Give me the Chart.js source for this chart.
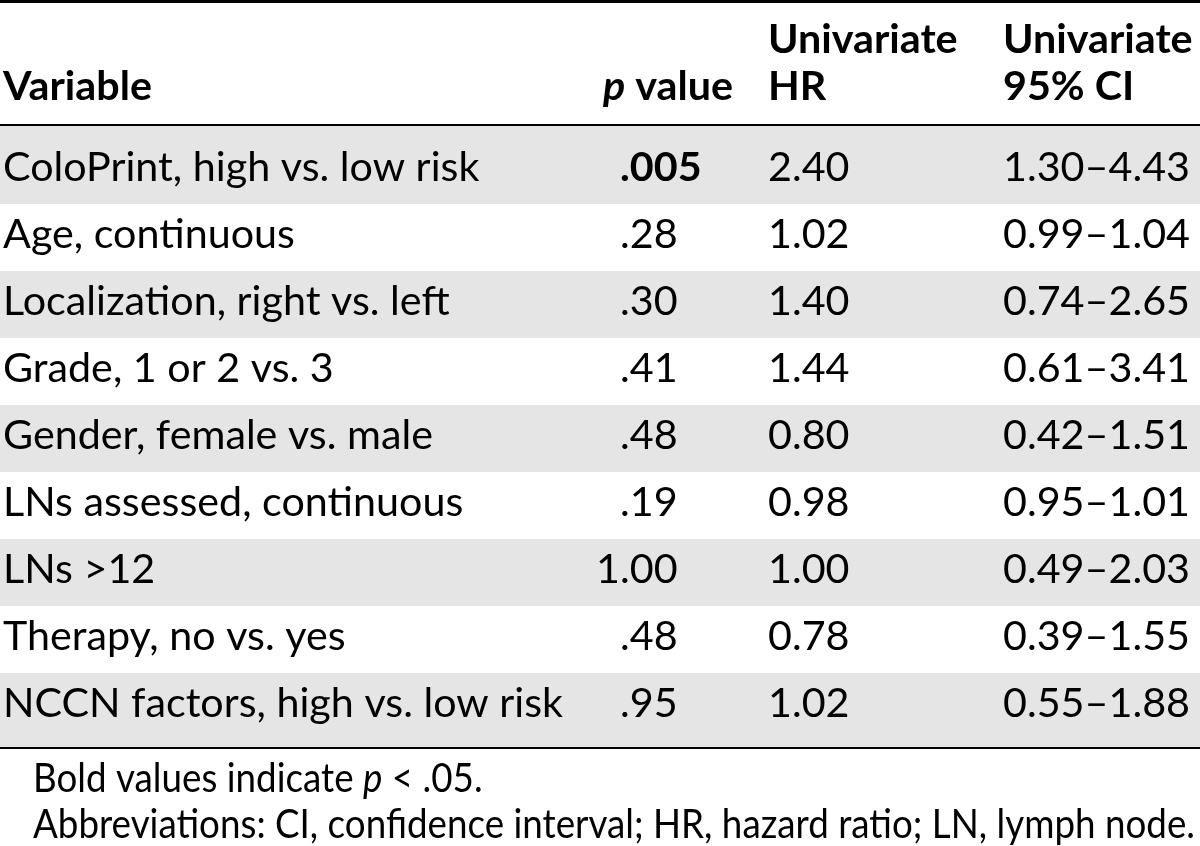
<!DOCTYPE html>
<html>
<head>
<meta charset="utf-8">
<script src="https://cdn.jsdelivr.net/npm/chart.js@4"></script>
<style>
  html, body { margin: 0; padding: 0; background: #ffffff; }
  canvas { display: block; }
</style>
</head>
<body>
<canvas id="c" width="1200" height="846"></canvas>
<script>
// ---- Data ----
const variables = [
  'ColoPrint, high vs. low risk',
  'Age, continuous',
  'Localization, right vs. left',
  'Grade, 1 or 2 vs. 3',
  'Gender, female vs. male',
  'LNs assessed, continuous',
  'LNs \u003E12',
  'Therapy, no vs. yes',
  'NCCN factors, high vs. low risk'
];
const pValues = [0.005, 0.28, 0.30, 0.41, 0.48, 0.19, 1.00, 0.48, 0.95];
const hazardRatios = [2.40, 1.02, 1.40, 1.44, 0.80, 0.98, 1.00, 0.78, 1.02];
const ciLower = [1.30, 0.99, 0.74, 0.61, 0.42, 0.95, 0.49, 0.39, 0.55];
const ciUpper = [4.43, 1.04, 2.65, 3.41, 1.51, 1.01, 2.03, 1.55, 1.88];
const headerVariable = ['Variable'];
const headerP = ['p', ' value'];
const headerHR = ['Univariate', 'HR'];
const headerCI = ['Univariate', '95% CI'];
const footnoteBold = ['Bold values indicate ', 'p', ' < .05.'];
const footnoteAbbr = 'Abbreviations: CI, confidence interval; HR, hazard ratio; LN, lymph node.';
const significance = 0.05;

// ---- Style / layout ----
const FAMILY = 'Lato, "Open Sans", sans-serif';
const SIZE = 40;
const COL_VAR_X = 3;
const COL_P_DOT_X = 620;
const COL_P_HEADER_RIGHT = 733;
const COL_HR_X = 768;
const COL_CI_X = 1003;
const STRIPE = '#e5e5e5';
const REF_TEXT = 'NCCN factors, high vs. low risk';
const REF_WIDTH = 560;
const FOOT_X = 33;
const FOOT_WIDTH = 1162;

function fmtP(v) {
  if (v >= 1) return v.toFixed(2);
  const s = v < 0.01 ? v.toFixed(3) : v.toFixed(2);
  return s.replace(/^0/, '');
}

const tablePlugin = {
  id: 'tablePlugin',
  beforeDatasetsDraw(chart) {
    const ctx = chart.ctx;
    const y = chart.scales.y;
    const area = chart.chartArea;
    const n = variables.length;
    const step = (area.bottom - area.top) / n;
    ctx.save();
    ctx.fillStyle = STRIPE;
    for (let i = 0; i < n; i += 2) {
      const cy = y.getPixelForValue(i);
      let top = cy - step / 2;
      let bot = cy + step / 2;
      if (i === 0) top = 126;
      if (i === n - 1) bot = 748;
      ctx.fillRect(0, top, chart.width, bot - top);
    }
    ctx.fillStyle = '#000';
    ctx.fillRect(0, 0, chart.width, 3);
    ctx.fillRect(0, 124, chart.width, 2);
    ctx.fillRect(0, 747, chart.width, 2);
    ctx.restore();
  },
  afterDraw(chart) {
    const ctx = chart.ctx;
    const y = chart.scales.y;
    const font = (w, it) => (it ? 'italic ' : '') + w + ' ' + SIZE + 'px ' + FAMILY;
    ctx.save();
    ctx.font = font('400');
    const k = REF_WIDTH / ctx.measureText(REF_TEXT).width;
    const kf = FOOT_WIDTH / ctx.measureText(footnoteAbbr).width;
    const w = (t, f, s) => { ctx.font = f; return ctx.measureText(t).width * (s || k); };
    const draw = (t, x, yy, align, f, s) => {
      ctx.save();
      ctx.font = f;
      ctx.textAlign = align;
      ctx.textBaseline = 'alphabetic';
      ctx.fillStyle = '#000';
      ctx.translate(x, yy);
      ctx.scale(s || k, 1);
      ctx.fillText(t, 0, 0);
      ctx.restore();
    };
    // header
    const hb1 = 53, hb2 = 100;
    draw(headerVariable[0], COL_VAR_X, hb2, 'left', font('700'));
    const vw = w(headerP[1], font('700'));
    draw(headerP[1], COL_P_HEADER_RIGHT, hb2, 'right', font('700'));
    draw(headerP[0], COL_P_HEADER_RIGHT - vw, hb2, 'right', font('700', true));
    draw(headerHR[0], COL_HR_X, hb1, 'left', font('700'));
    draw(headerHR[1], COL_HR_X, hb2, 'left', font('700'));
    draw(headerCI[0], COL_CI_X, hb1, 'left', font('700'));
    draw(headerCI[1], COL_CI_X, hb2, 'left', font('700'));
    // body
    variables.forEach((name, i) => {
      const base = y.getPixelForValue(i) + 10;
      draw(name, COL_VAR_X, base, 'left', font('400'));
      const ps = fmtP(pValues[i]);
      const pf = pValues[i] < significance ? font('700') : font('400');
      const dot = ps.indexOf('.');
      const intPart = ps.slice(0, dot);
      const rest = ps.slice(dot);
      if (intPart) draw(intPart, COL_P_DOT_X, base, 'right', pf);
      draw(rest, COL_P_DOT_X, base, 'left', pf);
      draw(hazardRatios[i].toFixed(2), COL_HR_X, base, 'left', font('400'));
      draw(ciLower[i].toFixed(2) + '\u2013' + ciUpper[i].toFixed(2), COL_CI_X, base, 'left', font('400'));
    });
    // footnotes
    let fx = FOOT_X;
    const f1 = 792, f2 = 838;
    draw(footnoteBold[0], fx, f1, 'left', font('400'), kf);
    fx += w(footnoteBold[0], font('400'), kf);
    draw(footnoteBold[1], fx, f1, 'left', font('400', true), kf);
    fx += w(footnoteBold[1], font('400', true), kf);
    draw(footnoteBold[2], fx, f1, 'left', font('400'), kf);
    draw(footnoteAbbr, FOOT_X, f2, 'left', font('400'), kf);
    ctx.restore();
  }
};

const chart = new Chart(document.getElementById('c'), {
  type: 'bar',
  data: {
    labels: variables,
    datasets: []
  },
  options: {
    indexAxis: 'y',
    responsive: false,
    animation: false,
    devicePixelRatio: 1,
    layout: { padding: { top: 137, bottom: 106, left: 0, right: 0 } },
    plugins: { legend: { display: false }, tooltip: { enabled: false } },
    scales: {
      x: { type: 'linear', display: false, min: 0, max: 1 },
      y: { type: 'category', labels: variables, offset: true, display: false }
    }
  },
  plugins: [tablePlugin]
});
document.fonts && document.fonts.ready.then(() => chart.draw());
</script>
</body>
</html>
